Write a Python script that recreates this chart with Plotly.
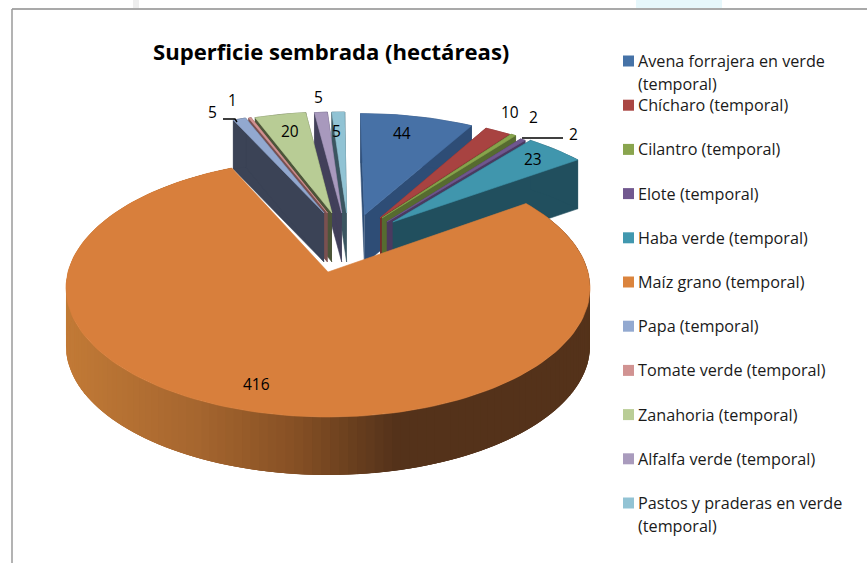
import numpy as np
import plotly.graph_objects as go

title = "Superficie sembrada (hectáreas)"
categories = ["Avena forrajera en verde<br>(temporal)", "Chícharo (temporal)", "Cilantro (temporal)",
              "Elote (temporal)", "Haba verde (temporal)", "Maíz grano (temporal)", "Papa (temporal)",
              "Tomate verde (temporal)", "Zanahoria (temporal)", "Alfalfa verde (temporal)",
              "Pastos y praderas en verde<br>(temporal)"]
values = [44, 10, 2, 2, 23, 416, 5, 1, 20, 5, 5]

top_colors = ["#4771a6", "#a84341", "#87a44c", "#6f578f", "#4096ad", "#d87f3c", "#92a8cf",
              "#d19291", "#b8cc95", "#a899bd", "#91c3d4"]
wall_colors = ["#2e4d76", "#742c2b", "#566b30", "#4a3a60", "#214f5e", "#54321a", "#3b4356",
               "#7a5050", "#4c5539", "#42405a", "#3b5560"]
legend_colors = ["#4572a7", "#aa4643", "#89a54e", "#71588f", "#4198af", "#db843d", "#93a9d0",
                 "#d19392", "#b9cd96", "#a99bbd", "#92c3d4"]
explode_u = [0.148, 0.211, 0.219, 0.238, 0.262, 0, -0.016, -0.002, 0.016, 0.056, 0.076]
explode_v = [0.475, 0.449, 0.449, 0.414, 0.414, 0, 0.493, 0.493, 0.493, 0.493, 0.493]
draw_order = [10, 9, 8, 7, 6, 0, 1, 2, 3, 4, 5]

label_x = [402, 510, 533, 573, 533, 256, 212, 232, 290, 318, 336]
label_y = [133, 112, 117, 134, 159, 384, 112, 100, 131, 97, 131]

CX, CY, RX, RY, P = 328, 272, 260, 127, 0.124
LEG_Y0, LEG_STEP = 61, 44.2
FONT = "Open Sans"


def project(u, v):
    w = 1 + P * v
    return CX + RX * u / w, CY - RY * v / w


def poly(xs, ys, color, lw=0.6):
    return go.Scatter(x=list(xs), y=list(ys), mode="lines", fill="toself", fillcolor=color,
                      line=dict(color=color, width=lw), hoverinfo="skip", showlegend=False)


def lerp_color(x):
    stops_x = [66, 200, 300, 400, 600]
    r = np.interp(x, stops_x, [194, 166, 134, 84, 84])
    g = np.interp(x, stops_x, [122, 102, 80, 50, 50])
    b = np.interp(x, stops_x, [54, 47, 36, 26, 26])
    return f"rgb({r:.0f},{g:.0f},{b:.0f})"


fig = go.Figure()
total = sum(values)
edges = np.cumsum([0] + values) / total * 2 * np.pi

for i in draw_order:
    a0, a1 = edges[i], edges[i + 1]
    n = max(4, int((a1 - a0) / 0.03))
    th = np.linspace(a0, a1, n)
    u = np.sin(th) + explode_u[i]
    v = np.cos(th) + explode_v[i]
    ax, ay = project(explode_u[i], explode_v[i])
    xs, ys = project(u, v)
    if i == 5:
        thick = 58
        for j in range(n - 1):
            e = min(j + 3, n - 1)
            seg_x = list(xs[j:e + 1])
            seg_y = list(ys[j:e + 1])
            qx = seg_x + seg_x[::-1]
            qy = seg_y + [y + thick for y in seg_y[::-1]]
            fig.add_trace(poly(qx, qy, lerp_color(xs[j]), lw=0))
    else:
        thick = 49
        c = wall_colors[i]
        fig.add_trace(poly([ax, xs[0], xs[0], ax], [ay, ys[0], ys[0] + thick, ay + thick], c))
        fig.add_trace(poly([ax, xs[-1], xs[-1], ax], [ay, ys[-1], ys[-1] + thick, ay + thick], c))
        fig.add_trace(poly(list(xs) + list(xs[::-1]), list(ys) + list(ys[::-1] + thick), c))
    fig.add_trace(poly([ax] + list(xs) + [ax], [ay] + list(ys) + [ay], top_colors[i]))

# Leader lines
fig.add_trace(go.Scatter(x=[522, 563], y=[138, 138], mode="lines", line=dict(color="black", width=1.4),
                         hoverinfo="skip", showlegend=False))
fig.add_trace(go.Scatter(x=[223, 235, 237], y=[119, 119, 122], mode="lines", line=dict(color="black", width=1.4),
                         hoverinfo="skip", showlegend=False))

# Legend markers
leg_y = [LEG_Y0 + LEG_STEP * k for k in range(len(categories))]
fig.add_trace(go.Scatter(x=[628.5] * len(categories), y=leg_y, mode="markers",
                         marker=dict(symbol="square", size=11, color=legend_colors, line=dict(width=0)),
                         hoverinfo="skip", showlegend=False))

annotations = []
for cat, y in zip(categories, leg_y):
    for k, line in enumerate(cat.split("<br>")):
        annotations.append(dict(x=636, y=y + 23 * k, xref="x", yref="y", text=line, showarrow=False, align="left",
                                xanchor="left", yanchor="middle", font=dict(family=FONT, size=16.2, color="#1a1a1a")))
for val, x, y in zip(values, label_x, label_y):
    annotations.append(dict(x=x, y=y, xref="x", yref="y", text=str(val), showarrow=False,
                            font=dict(family=FONT, size=15.5, color="black")))
annotations.append(dict(x=331, y=51, xref="x", yref="y", text=f"<b>{title}</b>", showarrow=False,
                        font=dict(family=FONT, size=22.1, color="black")))

fig.update_layout(
    width=867, height=563, margin=dict(l=0, r=0, t=0, b=0), paper_bgcolor="white", plot_bgcolor="white",
    xaxis=dict(range=[0, 867], visible=False, fixedrange=True),
    yaxis=dict(range=[563, 0], visible=False, fixedrange=True),
    showlegend=False, annotations=annotations,
    shapes=[
        dict(type="rect", x0=636, x1=722, y0=0, y1=8, fillcolor="#e6f7fb", line=dict(width=0), layer="below"),
        dict(type="rect", x0=133, x1=139, y0=0, y1=8, fillcolor="#eeeeee", line=dict(width=0), layer="below"),
        dict(type="line", x0=12, x1=867, y0=9, y1=9, line=dict(color="#8c8c8c", width=1.5)),
        dict(type="line", x0=12, x1=12, y0=9, y1=563, line=dict(color="#9a9a9a", width=1.5)),
    ],
)
fig.write_html("out.html", config={"displayModeBar": False},
               post_script="document.body.style.margin='0';document.body.style.overflow='hidden';")
